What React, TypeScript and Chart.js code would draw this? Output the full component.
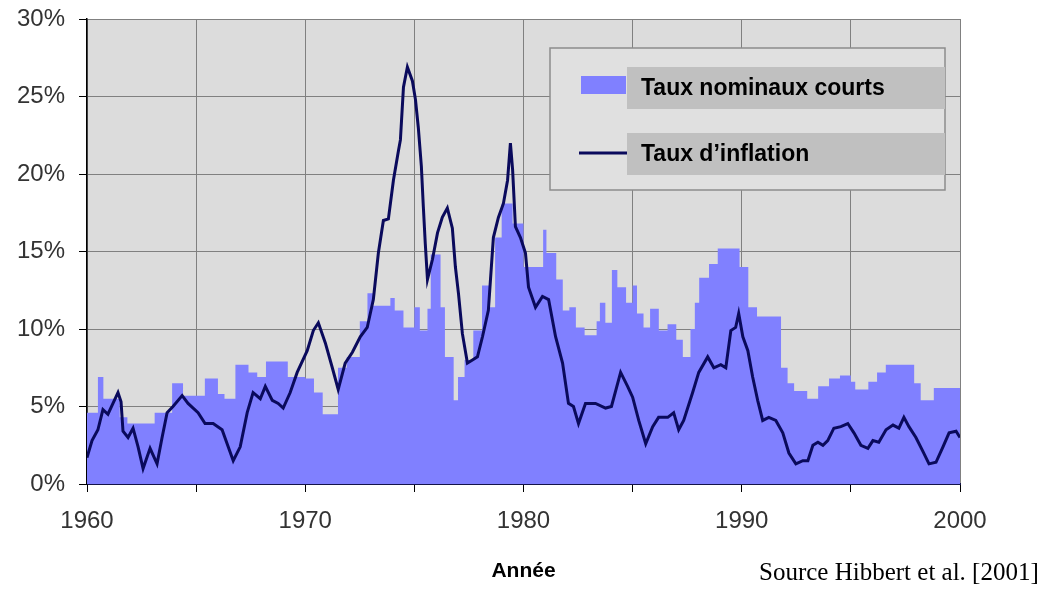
import React, { useEffect, useRef } from 'react';
import { Chart, registerables } from 'chart.js';

Chart.register(...registerables);

// Inflation rate (%)
const inflationYears = [
  1960.0, 1960.23, 1960.5, 1960.73, 1960.96, 1961.19, 1961.42, 1961.56, 1961.65, 1961.88,
  1962.11, 1962.34, 1962.57, 1962.89, 1963.21, 1963.44, 1963.67, 1963.94, 1964.36, 1964.63,
  1965.09, 1965.41, 1965.78, 1966.19, 1966.47, 1966.7, 1967.02, 1967.34, 1967.61, 1967.94,
  1968.17, 1968.49, 1968.76, 1968.99, 1969.31, 1969.63, 1970.09, 1970.37, 1970.6, 1970.92,
  1971.24, 1971.51, 1971.83, 1972.16, 1972.52, 1972.84, 1973.12, 1973.35, 1973.58, 1973.81,
  1974.04, 1974.27, 1974.36, 1974.5, 1974.68, 1974.91, 1975.05, 1975.18, 1975.32, 1975.41,
  1975.5, 1975.6, 1975.83, 1976.06, 1976.28, 1976.51, 1976.74, 1976.88, 1977.02, 1977.2,
  1977.43, 1977.66, 1977.89, 1978.12, 1978.39, 1978.62, 1978.85, 1979.08, 1979.27, 1979.4,
  1979.5, 1979.63, 1979.86, 1980.09, 1980.23, 1980.55, 1980.87, 1981.15, 1981.47, 1981.79,
  1982.06, 1982.29, 1982.52, 1982.84, 1983.3, 1983.76, 1984.03, 1984.45, 1984.77, 1985.0,
  1985.28, 1985.6, 1985.92, 1986.19, 1986.61, 1986.88, 1987.11, 1987.34, 1987.75, 1988.03,
  1988.44, 1988.72, 1989.04, 1989.27, 1989.5, 1989.72, 1989.86, 1990.05, 1990.28, 1990.5,
  1990.73, 1990.96, 1991.24, 1991.56, 1991.88, 1992.16, 1992.48, 1992.8, 1993.03, 1993.26,
  1993.49, 1993.72, 1993.94, 1994.22, 1994.54, 1994.86, 1995.14, 1995.46, 1995.78, 1996.01,
  1996.28, 1996.61, 1996.93, 1997.2, 1997.43, 1997.66, 1997.98, 1998.3, 1998.58, 1998.9,
  1999.22, 1999.5, 1999.82, 2000.0,
];
const inflationValues = [
  1.7, 2.8, 3.5, 4.8, 4.5, 5.2, 5.9, 5.3, 3.4, 3.0,
  3.6, 2.4, 1.0, 2.3, 1.3, 3.0, 4.6, 5.0, 5.7, 5.2,
  4.6, 3.9, 3.9, 3.5, 2.4, 1.5, 2.4, 4.6, 5.9, 5.5,
  6.3, 5.4, 5.2, 4.9, 5.9, 7.2, 8.6, 9.9, 10.4, 9.1,
  7.5, 6.1, 7.8, 8.5, 9.5, 10.1, 11.9, 14.9, 17.0, 17.1,
  19.6, 21.5, 22.2, 25.6, 26.9, 26.0, 24.8, 23.0, 20.5, 17.9,
  15.5, 13.2, 14.5, 16.2, 17.2, 17.8, 16.5, 14.0, 12.3, 9.7,
  7.8, 8.0, 8.2, 9.5, 11.2, 15.9, 17.2, 18.1, 19.6, 22.0,
  20.3, 16.6, 15.9, 14.9, 12.7, 11.4, 12.1, 11.9, 9.5, 7.8,
  5.2, 5.0, 3.9, 5.2, 5.2, 4.9, 5.0, 7.2, 6.3, 5.6,
  4.1, 2.6, 3.7, 4.3, 4.3, 4.6, 3.5, 4.1, 5.9, 7.2,
  8.2, 7.5, 7.7, 7.5, 9.9, 10.1, 11.0, 9.5, 8.6, 6.9,
  5.4, 4.1, 4.3, 4.1, 3.3, 2.0, 1.3, 1.5, 1.5, 2.5,
  2.7, 2.5, 2.8, 3.6, 3.7, 3.9, 3.3, 2.5, 2.3, 2.8,
  2.7, 3.5, 3.8, 3.6, 4.3, 3.7, 3.0, 2.1, 1.3, 1.4,
  2.4, 3.3, 3.4, 3.0,
];

// Short nominal rates (%), each value holds from its year until the next one
const rateYears = [
  1960.0, 1960.5, 1960.75, 1961.5, 1961.85, 1963.1, 1963.9, 1964.4, 1965.4, 1966.0,
  1966.3, 1966.8, 1967.4, 1967.8, 1968.2, 1969.2, 1970.0, 1970.4, 1970.8, 1971.5,
  1971.9, 1972.5, 1972.85, 1973.1, 1973.9, 1974.1, 1974.5, 1975.0, 1975.25, 1975.6,
  1975.75, 1976.2, 1976.4, 1976.8, 1977.0, 1977.3, 1977.7, 1978.1, 1978.45, 1978.7,
  1979.0, 1979.5, 1980.0, 1980.9, 1981.05, 1981.5, 1981.8, 1982.1, 1982.4, 1982.8,
  1983.35, 1983.5, 1983.75, 1984.05, 1984.3, 1984.7, 1985.0, 1985.2, 1985.5, 1985.8,
  1986.2, 1986.6, 1987.0, 1987.3, 1987.65, 1987.85, 1988.05, 1988.5, 1988.9, 1989.9,
  1990.3, 1990.7, 1991.8, 1992.1, 1992.4, 1993.0, 1993.5, 1994.0, 1994.5, 1995.0,
  1995.2, 1995.8, 1996.2, 1996.6, 1997.9, 1998.2, 1998.8, 2000.0,
];
const rateValues = [
  4.6, 6.9, 5.5, 4.3, 3.9, 4.6, 6.5, 5.7, 6.8, 5.8,
  5.5, 7.7, 7.2, 6.9, 7.9, 6.9, 6.8, 5.9, 4.5, 7.5,
  8.2, 10.5, 12.3, 11.5, 12.0, 11.2, 10.1, 11.4, 9.9, 11.3,
  14.8, 11.4, 8.2, 5.4, 6.9, 8.0, 9.9, 12.8, 11.4, 15.9,
  18.1, 16.8, 14.0, 16.4, 14.9, 13.2, 11.2, 11.4, 10.1, 9.6,
  10.5, 11.7, 10.4, 13.8, 12.7, 11.7, 12.8, 11.0, 10.1, 11.3,
  9.9, 10.3, 9.3, 8.2, 10.0, 11.7, 13.3, 14.2, 15.2, 14.0,
  11.4, 10.8, 7.5, 6.5, 6.0, 5.5, 6.3, 6.8, 7.0, 6.6,
  6.1, 6.6, 7.2, 7.7, 6.5, 5.4, 6.2, 6.2,
];

const xTickLabelYears = [1960, 1970, 1980, 1990, 2000];
const legendLabels = ['Taux nominaux courts', 'Taux d\u2019inflation'];
const xAxisTitle = 'Ann\u00e9e';
const sourceText = 'Source Hibbert et al. [2001]';

const SANS = '"Liberation Sans", Arial, sans-serif';
const SERIF = '"Liberation Serif", "Times New Roman", serif';
const RATE_COLOR = '#8080ff';
const INFL_COLOR = '#0a0a5c';

export default function App() {
  const ref = useRef<HTMLCanvasElement | null>(null);

  useEffect(() => {
    if (!ref.current) return;

    const plotBg = {
      id: 'plotBg',
      beforeDraw(chart: any) {
        const { ctx, chartArea: a } = chart;
        ctx.save();
        ctx.fillStyle = '#dcdcdc';
        ctx.fillRect(a.left, a.top, a.right - a.left, a.bottom - a.top);
        ctx.restore();
      },
    };

    const boxLegend = {
      id: 'boxLegend',
      afterDraw(chart: any) {
        const { ctx, chartArea: a } = chart;
        const L = a.left;
        const T = a.top;
        ctx.save();
        ctx.fillStyle = '#e0e0e0';
        ctx.fillRect(L + 463, T + 29, 395, 142);
        ctx.strokeStyle = '#8c8c8c';
        ctx.lineWidth = 1.5;
        ctx.strokeRect(L + 463, T + 29, 395, 142);
        ctx.fillStyle = '#c0c0c0';
        ctx.fillRect(L + 540, T + 48, 318, 42);
        ctx.fillRect(L + 540, T + 114, 318, 42);
        ctx.fillStyle = RATE_COLOR;
        ctx.fillRect(L + 494, T + 57, 45, 18);
        ctx.strokeStyle = INFL_COLOR;
        ctx.lineWidth = 3;
        ctx.beginPath();
        ctx.moveTo(L + 492, T + 134);
        ctx.lineTo(L + 540, T + 134);
        ctx.stroke();
        ctx.fillStyle = '#000';
        ctx.font = 'bold 23px ' + SANS;
        ctx.textBaseline = 'middle';
        ctx.textAlign = 'left';
        ctx.fillText(legendLabels[0], L + 554, T + 70);
        ctx.fillText(legendLabels[1], L + 554, T + 136);
        ctx.restore();
      },
    };

    const chart = new Chart(ref.current, {
      type: 'line',
      data: {
        datasets: [
          {
            label: legendLabels[1],
            data: inflationYears.map((x, i) => ({ x, y: inflationValues[i] })),
            borderColor: INFL_COLOR,
            borderWidth: 3,
            pointRadius: 0,
            fill: false,
            tension: 0,
            order: 0,
          },
          {
            label: legendLabels[0],
            data: rateYears.map((x, i) => ({ x, y: rateValues[i] })),
            stepped: 'before',
            borderWidth: 0,
            borderColor: 'rgba(0,0,0,0)',
            backgroundColor: RATE_COLOR,
            fill: 'origin',
            pointRadius: 0,
            order: 1,
          },
        ],
      },
      options: {
        animation: false,
        responsive: false,
        maintainAspectRatio: false,
        layout: { padding: { left: 0, top: 19, right: 90, bottom: 0 } },
        plugins: {
          legend: { display: false },
          tooltip: { enabled: false },
        },
        scales: {
          x: {
            type: 'linear',
            min: 1960,
            max: 2000,
            ticks: {
              stepSize: 5,
              autoSkip: false,
              maxRotation: 0,
              padding: 15,
              color: '#333',
              font: { family: SANS, size: 24 },
              callback: (v: any) => (xTickLabelYears.includes(Number(v)) ? String(v) : ''),
            },
            grid: { color: '#808080', lineWidth: 1, tickColor: '#000', tickLength: 8 },
            border: { color: '#14144a', width: 2 },
            title: {
              display: true,
              text: xAxisTitle,
              color: '#000',
              font: { family: SANS, size: 21, weight: 'bold' },
              padding: { top: 0, bottom: 10 },
            },
            afterFit: (s: any) => {
              s.height = 110;
              s.paddingLeft = 0;
              s.paddingRight = 0;
            },
          },
          y: {
            min: 0,
            max: 30,
            ticks: {
              stepSize: 5,
              padding: 14,
              color: '#333',
              font: { family: SANS, size: 24 },
              callback: (v: any) => v + '%',
            },
            grid: { color: '#808080', lineWidth: 1, tickColor: '#000', tickLength: 8 },
            border: { color: '#000', width: 1.5 },
            afterFit: (s: any) => {
              s.width = 87;
              s.paddingTop = 0;
              s.paddingBottom = 0;
            },
          },
        },
      } as any,
      plugins: [plotBg, boxLegend],
    });

    return () => chart.destroy();
  }, []);

  return (
    <div style={{ position: 'fixed', left: 0, top: 0, width: 1050, height: 594, background: '#fff' }}>
      <canvas ref={ref} width={1050} height={594} style={{ display: 'block', width: 1050, height: 594 }} />
      <div
        style={{
          position: 'absolute',
          left: 759,
          top: 557,
          fontFamily: SERIF,
          fontSize: 25,
          lineHeight: '30px',
          color: '#000',
          whiteSpace: 'nowrap',
        }}
      >
        {sourceText}
      </div>
    </div>
  );
}
